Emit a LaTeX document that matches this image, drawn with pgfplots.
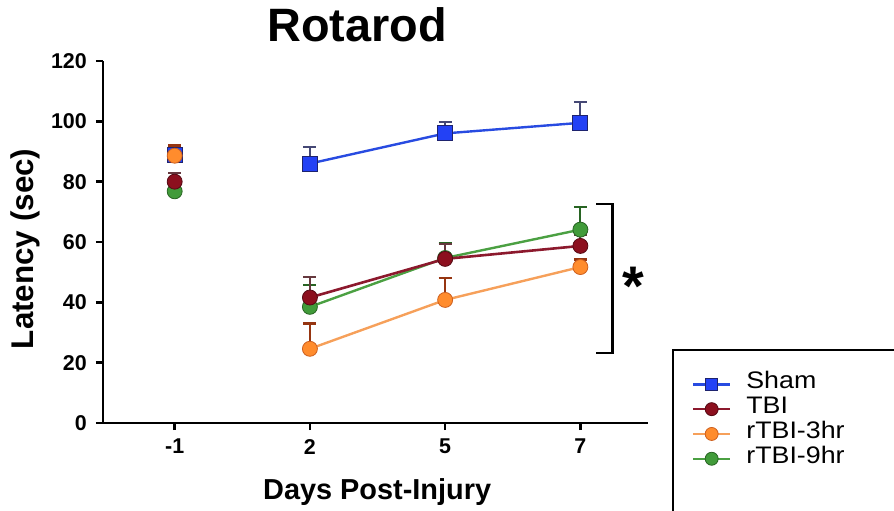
\documentclass[border=0pt]{standalone}
\usepackage{pgfplots}
\pgfplotsset{compat=1.18}
\usepackage{pgfplotstable}
\usepackage{fontspec}
\setmainfont{Liberation Sans}
\newfontfamily\legfont[FakeStretch=1.12]{Liberation Sans}

\definecolor{shamfill}{RGB}{35,65,245}
\definecolor{shamline}{RGB}{40,75,225}
\definecolor{shamedge}{RGB}{30,35,110}
\definecolor{tbifill}{RGB}{140,15,30}
\definecolor{tbiline}{RGB}{140,25,45}
\definecolor{tbiedge}{RGB}{85,10,20}
\definecolor{thrfill}{RGB}{255,140,45}
\definecolor{thrline}{RGB}{246,160,90}
\definecolor{thredge}{RGB}{205,95,30}
\definecolor{nhrfill}{RGB}{65,155,58}
\definecolor{nhrline}{RGB}{75,160,66}
\definecolor{nhredge}{RGB}{40,100,35}

\pgfplotstableread{
x y e
0 89 3
0.5 nan 0
1 86 5.5
2 96 3.8
3 99.5 7
}\sham
\pgfplotstableread{
x y e
0 80 3
0.5 nan 0
1 41.6 6.8
2 54.4 5
3 58.7 3.5
}\tbi
\pgfplotstableread{
x y e
0 88.6 3.4
0.5 nan 0
1 24.6 8.4
2 40.8 7.2
3 51.7 2.5
}\thr
\pgfplotstableread{
x y e
0 76.8 2.5
0.5 nan 0
1 38.5 7.2
2 54.7 5
3 64.1 7.5
}\nhr

\begin{document}
\begin{tikzpicture}
\useasboundingbox (-103bp,-88bp) rectangle (791bp,423bp);
\begin{axis}[
  at={(0,0)}, anchor=south west,
  scale only axis, width=545bp, height=362bp,
  xmin=-0.53, xmax=3.5, ymin=0, ymax=120,
  axis x line*=bottom, axis y line*=left,
  axis line style={line width=2.4bp, black},
  xtick={0,1,2,3}, xticklabels={-1,2,5,7},
  ytick={0,20,...,120},
  tick align=outside, major tick length=7bp,
  tick style={line width=2.4bp, black},
  /pgf/number format/assume math mode=true,
  ticklabel style={font=\bfseries\fontsize{21.5}{21.5}\selectfont},
  xticklabel style={inner sep=0pt, yshift=-9bp},
  yticklabel style={inner sep=0pt, xshift=-9bp},
  unbounded coords=jump,
  title={Rotarod},
  title style={at={(axis description cs:0.466,1.0387)}, anchor=base, inner sep=0pt, font=\bfseries\fontsize{47}{50}\selectfont},
  xlabel={Days Post-Injury},
  xlabel style={at={(axis description cs:0.503,-0.19)}, anchor=center, font=\bfseries\fontsize{29}{30}\selectfont},
  ylabel={Latency (sec)},
  ylabel style={at={(axis description cs:-0.143,0.481)}, anchor=center, rotate=0, font=\bfseries\fontsize{31.5}{32}\selectfont},
  legend style={draw=none, fill=none, at={(axis description cs:1.0807,0.141)}, anchor=north west,
    inner sep=0pt, outer sep=0pt, font=\legfont\fontsize{24}{24}\selectfont,
    nodes={inner sep=1bp, text height=16bp, text depth=6.8bp},
    /tikz/every odd column/.append style={column sep=14bp}},
  legend cell align=left,
  legend image code/.code={\draw[mark repeat=2,mark phase=2,#1] plot coordinates {(0bp,0bp) (18.5bp,0bp) (37bp,0bp)};},
]
\addlegendimage{line width=2.4bp, shamline, mark=square*, mark size=6bp, mark options={fill=shamfill, draw=shamedge, line width=0.8bp}}
\addlegendentry{Sham}
\addlegendimage{line width=2.4bp, tbiline, mark=*, mark size=6.5bp, mark options={fill=tbifill, draw=tbiedge, line width=0.8bp}}
\addlegendentry{TBI}
\addlegendimage{line width=2.4bp, thrline, mark=*, mark size=6.5bp, mark options={fill=thrfill, draw=thredge, line width=0.8bp}}
\addlegendentry{rTBI-3hr}
\addlegendimage{line width=2.4bp, nhrline, mark=*, mark size=6.5bp, mark options={fill=nhrfill, draw=nhredge, line width=0.8bp}}
\addlegendentry{rTBI-9hr}

\addplot[forget plot, line width=2.4bp, shamline, mark=square*, mark size=7.5bp,
  mark options={fill=shamfill, draw=shamedge, line width=0.8bp},
  error bars/.cd, y dir=plus, y explicit, error mark=|,
  error bar style={line width=2.2bp, color=shamedge!60!gray},
  error mark options={line width=2.2bp, mark size=6.5bp, color=shamedge!60!gray}]
  table[x=x, y=y, y error=e] {\sham};
\addplot[forget plot, line width=2.4bp, nhrline, mark=*, mark size=7.5bp,
  mark options={fill=nhrfill, draw=nhredge, line width=0.8bp},
  error bars/.cd, y dir=plus, y explicit, error mark=|,
  error bar style={line width=2.2bp, color=nhredge},
  error mark options={line width=2.2bp, mark size=6.5bp, color=nhredge}]
  table[x=x, y=y, y error=e] {\nhr};
\addplot[forget plot, line width=2.6bp, tbiline, mark=*, mark size=7.5bp,
  mark options={fill=tbifill, draw=tbiedge, line width=0.8bp},
  error bars/.cd, y dir=plus, y explicit, error mark=|,
  error bar style={line width=2.2bp, color=tbiedge!60!gray},
  error mark options={line width=2.2bp, mark size=6.5bp, color=tbiedge!60!gray}]
  table[x=x, y=y, y error=e] {\tbi};
\addplot[forget plot, line width=2.4bp, thrline, mark=*, mark size=7.5bp,
  mark options={fill=thrfill, draw=thredge, line width=0.8bp},
  error bars/.cd, y dir=plus, y explicit, error mark=|,
  error bar style={line width=2.2bp, color=thredge!80!red!70!black},
  error mark options={line width=2.2bp, mark size=6.5bp, color=thredge!80!red!70!black}]
  table[x=x, y=y, y error=e] {\thr};

\draw[line width=2.4bp, black] (axis cs:3.119,72.6) -- (axis cs:3.237,72.6) -- (axis cs:3.237,23.2) -- (axis cs:3.119,23.2);
\node[font=\bfseries\fontsize{56}{56}\selectfont, inner sep=0pt] at (axis cs:3.39,45.3) {*};
\end{axis}
\draw[line width=1.6bp, black] (570bp,-100bp) -- (570bp,73bp) -- (800bp,73bp);
\end{tikzpicture}
\end{document}
